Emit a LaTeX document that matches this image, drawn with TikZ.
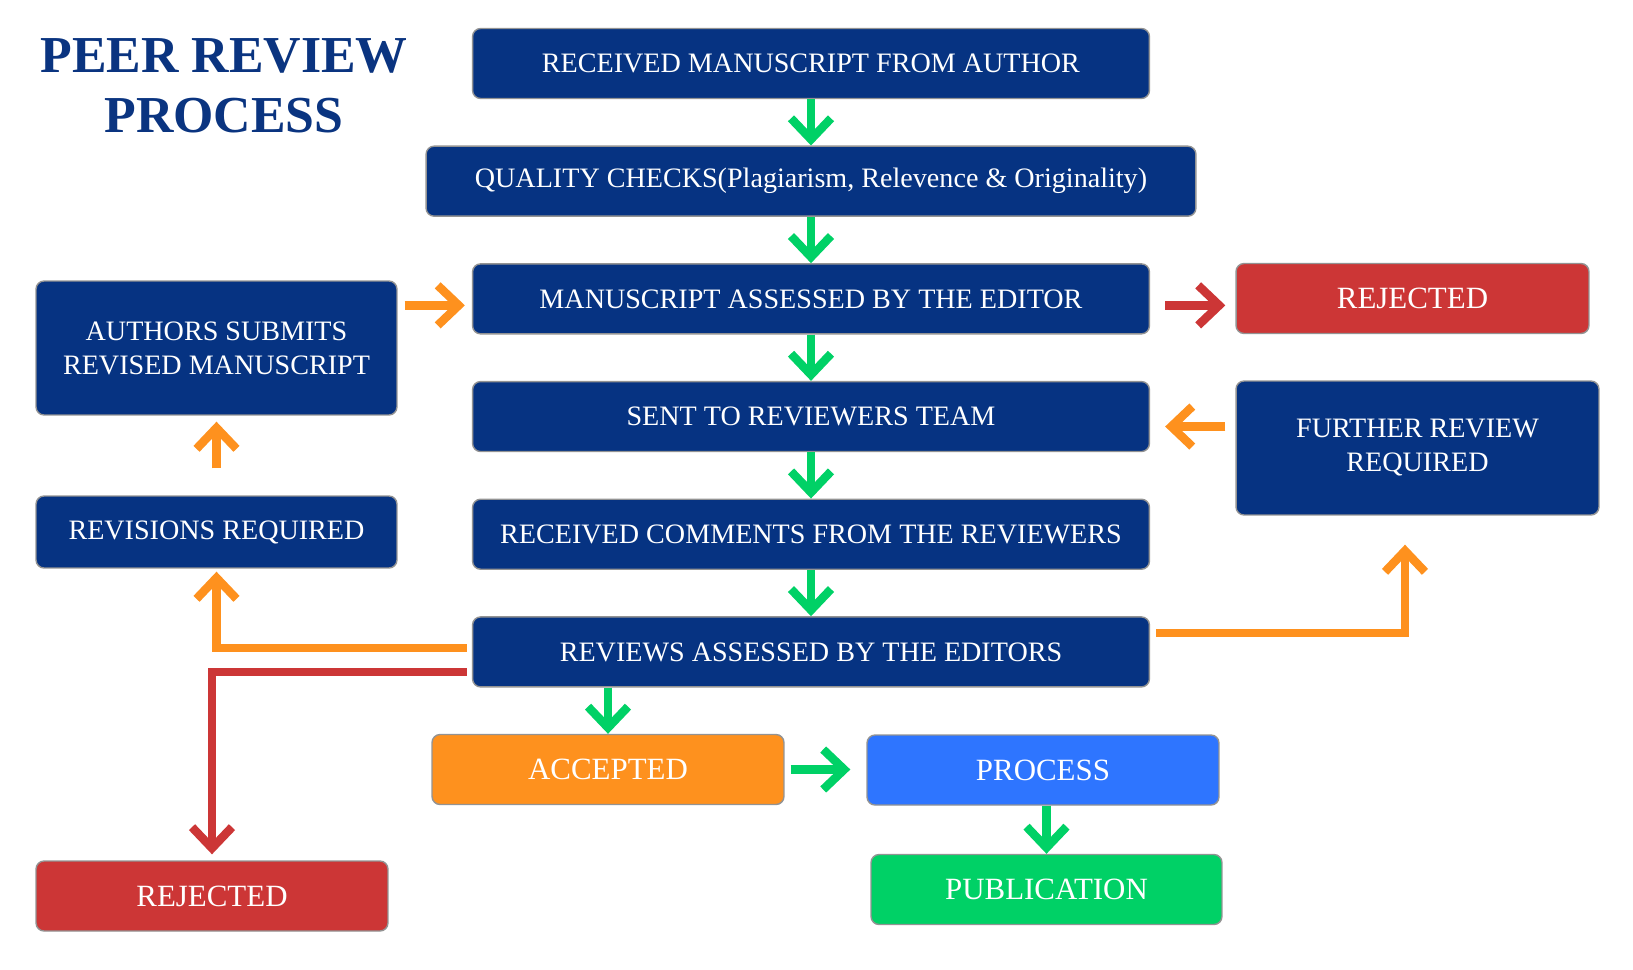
\documentclass[tikz,border=0pt]{standalone}
\usepackage{fontspec}
\setmainfont{Liberation Serif}
\usetikzlibrary{arrows.meta,positioning}
\definecolor{navybox}{RGB}{6,51,130}
\definecolor{titleblue}{RGB}{10,52,128}
\definecolor{orangebox}{RGB}{254,145,30}
\definecolor{redbox}{RGB}{204,54,54}
\definecolor{greenbox}{RGB}{0,209,102}
\definecolor{bluebox}{RGB}{46,117,255}
\tikzset{>={Straight Barb[length=0.42cm,width=0.8cm]}}

\begin{document}
\begin{tikzpicture}[x=0.02cm,y=-0.02cm,
  box/.style={draw=gray!85,line width=0.8pt,rounded corners=0.16cm,fill=navybox,text=white,
    font=\fontsize{16}{19.3}\selectfont,minimum height=1.4cm,align=center},
  bigbox/.style={box,font=\fontsize{17.6}{21}\selectfont},
  flow/.style={->,line width=0.17cm},
  garrow/.style={flow,draw=greenbox},
  oarrow/.style={flow,draw=orangebox},
  rarrow/.style={flow,draw=redbox}]
\useasboundingbox (0,0) rectangle (1633,970);
\node[font=\bfseries\fontsize{29.5}{34}\selectfont,text=titleblue,align=center] (title) at (224,86) {PEER REVIEW\\PROCESS};
% main column
\node[box,minimum width=13.54cm] (received) at (811,63.5) {RECEIVED MANUSCRIPT FROM AUTHOR};
\node[box,minimum width=15.4cm,below=0.926cm of received] (quality) {QUALITY CHECKS(Plagiarism, Relevence \& Originality)};
\node[box,minimum width=13.54cm,below=0.926cm of quality] (editor) {MANUSCRIPT ASSESSED BY THE EDITOR};
\node[box,minimum width=13.54cm,below=0.926cm of editor] (team) {SENT TO REVIEWERS TEAM};
\node[box,minimum width=13.54cm,below=0.926cm of team] (comments) {RECEIVED COMMENTS FROM THE REVIEWERS};
\node[box,minimum width=13.54cm,below=0.926cm of comments] (reviews) {REVIEWS ASSESSED BY THE EDITORS};
% side boxes
\node[box,minimum width=7.22cm,minimum height=2.68cm] (authors) at (216.5,348) {AUTHORS SUBMITS\\REVISED MANUSCRIPT};
\node[box,minimum width=7.22cm,minimum height=1.44cm] (revisions) at (216.5,532) {REVISIONS REQUIRED};
\node[bigbox,fill=redbox,minimum width=7.04cm] (rejectlow) at (212,896) {REJECTED};
\node[bigbox,fill=redbox,minimum width=7.06cm] (rejecthigh) at (1412.5,298.5) {REJECTED};
\node[box,minimum width=7.26cm,minimum height=2.68cm] (further) at (1417.5,448) {FURTHER REVIEW\\REQUIRED};
\node[bigbox,fill=orangebox,minimum width=7.04cm] (accepted) at (608,769.5) {ACCEPTED};
\node[bigbox,fill=bluebox,minimum width=7.04cm] (process) at (1043,770) {PROCESS};
\node[bigbox,fill=greenbox,minimum width=7.02cm] (publication) at (1046.5,889.5) {PUBLICATION};
% arrows
\foreach \a/\b in {received/quality,quality/editor,editor/team,team/comments,comments/reviews}
  \draw[garrow] (\a) -- (\b);
\draw[garrow] (reviews.south -| accepted) -- (accepted);
\draw[garrow,shorten <=0.12cm,shorten >=0.32cm] (accepted.east) -- (accepted.east -| process.west);
\draw[garrow] (process.south -| publication) -- (publication);
\draw[rarrow,shorten <=0.3cm,shorten >=0.2cm] ([yshift=-0.13cm]editor.east) -- ([yshift=-0.13cm]editor.east -| rejecthigh.west);
\draw[oarrow,shorten <=0.14cm,shorten >=0.14cm] ([yshift=-0.13cm]editor.west -| authors.east) -- ([yshift=-0.13cm]editor.west);
\draw[oarrow,shorten <=0.2cm,shorten >=0.3cm] ([yshift=-0.2cm]team.east -| further.west) -- ([yshift=-0.2cm]team.east);
\draw[oarrow,shorten <=0.54cm,shorten >=0.12cm] (revisions) -- (authors);
\draw[oarrow,shorten <=0.1cm,shorten >=0.06cm] ([yshift=0.08cm]reviews.west) -| (revisions.south);
\draw[rarrow,shorten <=0.1cm,shorten >=0.12cm] ([yshift=-0.4cm]reviews.west) -| (rejectlow.north);
\draw[oarrow,shorten <=0.12cm,shorten >=0.58cm] ([yshift=0.38cm]reviews.east) -| ([xshift=-0.25cm]further.south);
\end{tikzpicture}
\end{document}
